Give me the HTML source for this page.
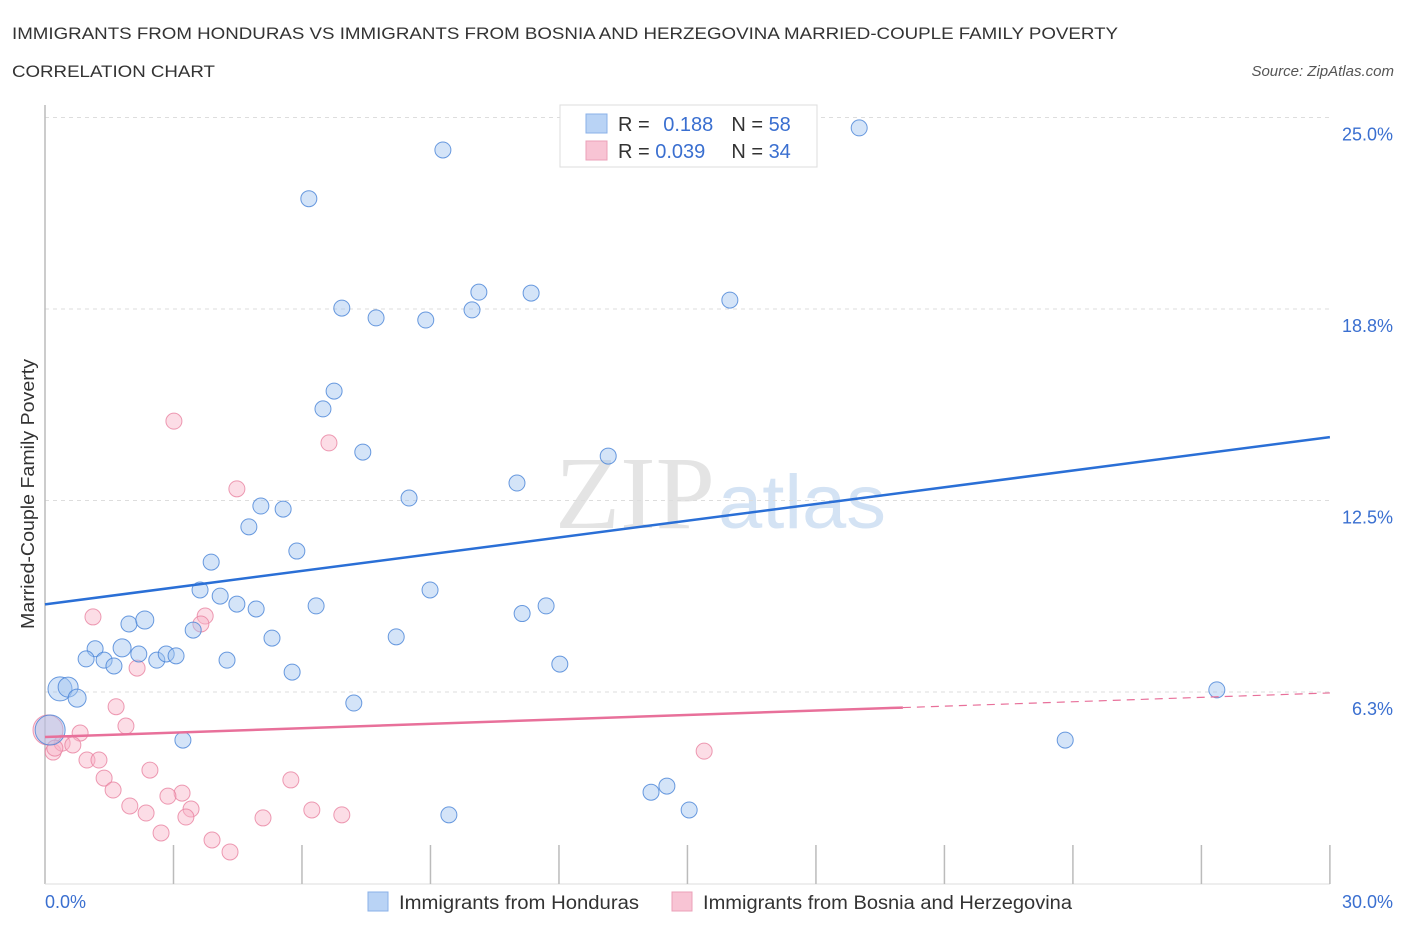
<!DOCTYPE html>
<html><head><meta charset="utf-8"><style>
body{margin:0;background:#fff;font-family:"Liberation Sans",sans-serif;}
svg{display:block}
</style></head><body>
<svg id="chart" width="1406" height="930" xmlns="http://www.w3.org/2000/svg">
<text x="12" y="39" font-size="17" fill="#333" textLength="1106" lengthAdjust="spacingAndGlyphs">IMMIGRANTS FROM HONDURAS VS IMMIGRANTS FROM BOSNIA AND HERZEGOVINA MARRIED-COUPLE FAMILY POVERTY</text>
<text x="12" y="77" font-size="17" fill="#333" textLength="203" lengthAdjust="spacingAndGlyphs">CORRELATION CHART</text>
<text x="1394" y="76" font-size="15" fill="#555" font-style="italic" text-anchor="end">Source: ZipAtlas.com</text>
<text x="555" y="528" font-size="104" fill="#e4e4e4" textLength="160" lengthAdjust="spacingAndGlyphs" font-family="Liberation Serif,serif">ZIP</text>
<text x="718" y="528" font-size="76" fill="#d4e3f4" textLength="168" lengthAdjust="spacingAndGlyphs">atlas</text>
<g id="grid"></g>
<g id="axes"></g>
<g id="pts"></g>
<g id="lines"></g>
<text transform="translate(34,494) rotate(-90)" font-size="18" fill="#333" text-anchor="middle" textLength="270" lengthAdjust="spacingAndGlyphs">Married-Couple Family Poverty</text>
<text x="45" y="908" font-size="18" fill="#3a6fd0">0.0%</text>
<text x="1393" y="908" font-size="18" fill="#3a6fd0" text-anchor="end">30.0%</text>
<g>
<rect x="560" y="105" width="257" height="62" fill="#fff" stroke="#ddd"/>
<rect x="586" y="114" width="21" height="19" fill="#b9d3f5" stroke="#8ab0e8"/>
<rect x="586" y="141" width="21" height="19" fill="#f8c4d4" stroke="#eba0b8"/>
<text x="618" y="131" font-size="20" fill="#333">R = <tspan fill="#3a6fd0" dx="8">0.188</tspan><tspan dx="18" fill="#333">N = </tspan><tspan fill="#3a6fd0">58</tspan></text>
<text x="618" y="158" font-size="20" fill="#333">R = <tspan fill="#3a6fd0">0.039</tspan><tspan dx="26" fill="#333">N = </tspan><tspan fill="#3a6fd0">34</tspan></text>
</g>
<g>
<rect x="368" y="892" width="20" height="19" fill="#b9d3f5" stroke="#8ab0e8"/>
<text x="399" y="909" font-size="19" fill="#333" textLength="240" lengthAdjust="spacingAndGlyphs">Immigrants from Honduras</text>
<rect x="672" y="892" width="20" height="19" fill="#f8c4d4" stroke="#eba0b8"/>
<text x="703" y="909" font-size="19" fill="#333" textLength="369" lengthAdjust="spacingAndGlyphs">Immigrants from Bosnia and Herzegovina</text>
</g>
</svg>
<script>
const blueX=[9.29,19.01,6.16,6.93,7.73,8.89,9.97,10.13,11.35,15.99,6.75,6.49,7.42,13.15,11.02,8.50,5.04,5.56,4.76,5.88,3.88,3.62,4.09,4.48,4.93,6.33,8.99,11.14,11.70,1.96,2.33,3.46,5.30,8.20,1.17,1.80,0.96,1.38,1.61,2.19,2.61,2.83,3.06,4.25,5.77,12.02,0.35,0.54,0.75,7.21,27.36,3.22,23.82,14.15,14.52,15.04,9.43,0.12];
const blueY=[23.94,24.66,22.35,18.78,18.46,18.39,18.72,19.30,19.27,19.04,16.07,15.49,14.08,13.95,13.07,12.58,12.32,12.22,11.64,10.85,10.49,9.58,9.38,9.12,8.96,9.06,9.58,8.81,9.06,8.47,8.60,8.27,8.01,8.05,7.66,7.69,7.33,7.29,7.10,7.49,7.29,7.49,7.43,7.29,6.90,7.16,6.35,6.41,6.05,5.89,6.32,4.68,4.68,2.98,3.18,2.40,2.24,5.01];
const blueR=[8,8,8,8,8,8,8,8,8,8,8,8,8,8,8,8,8,8,8,8,8,8,8,8,8,8,8,8,8,8,9,8,8,8,8,9,8,8,8,8,8,8,8,8,8,8,12,10,9,8,8,8,8,8,8,8,8,15];
const pinkX=[3.01,6.63,4.48,1.12,3.74,3.64,2.15,1.66,1.89,0.82,0.19,0.40,0.65,0.98,1.26,1.38,2.45,5.74,1.59,3.20,2.87,1.98,3.41,2.36,3.29,6.23,6.93,5.09,2.71,3.90,4.32,15.39,0.07,0.23];
const pinkY=[15.09,14.38,12.88,8.70,8.73,8.47,7.03,5.77,5.14,4.91,4.29,4.58,4.52,4.03,4.03,3.44,3.70,3.38,3.05,2.95,2.85,2.53,2.43,2.30,2.17,2.40,2.24,2.14,1.65,1.42,1.03,4.32,5.01,4.42];
const yTicks=[6.25,12.5,18.75,25];
const yTickLabels=["6.3%","12.5%","18.8%","25.0%"];
const xTicks=[3,6,9,12,15,18,21,24,27,30];
const blueTrend=[9.11,14.57];
const pinkTrend=[4.78,6.22];
const pinkSolidEnd=20.03;
const X=v=>45+v*42.83, Y=v=>883.5-v*30.64;
const NS="http://www.w3.org/2000/svg";
function mk(tag,attrs,parent){const e=document.createElementNS(NS,tag);for(const k in attrs)e.setAttribute(k,attrs[k]);document.getElementById(parent).appendChild(e);return e;}
yTicks.forEach((t,i)=>{
 const g=mk('line',{x1:45,x2:1330,y1:Y(t),y2:Y(t),stroke:'#ddd','stroke-dasharray':'4,4'},'grid');
 
 
 const l=mk('text',{x:1393,y:Y(t)+23,'font-size':18,fill:'#3a6fd0','text-anchor':'end'},'grid');
 l.textContent=yTickLabels[i];
 
 
});
const ax=mk('line',{x1:45,x2:45,y1:105,y2:884,stroke:'#bbb','stroke-width':1.5},'axes');


const bx=mk('line',{x1:45,x2:1330,y1:884,y2:884,stroke:'#ddd'},'axes');


xTicks.forEach(t=>{
 const k=mk('line',{x1:X(t),x2:X(t),y1:845,y2:884,stroke:'#bbb','stroke-width':1.5},'axes');
 
 
});
pinkX.forEach((v,i)=>{
 const c=mk('circle',{cx:X(v),cy:Y(pinkY[i]),r:i==32?15:8,fill:'rgba(248,180,200,0.45)',stroke:'rgba(232,130,160,0.8)','stroke-width':1},'pts');
 
 
});
blueX.forEach((v,i)=>{
 const c=mk('circle',{cx:X(v),cy:Y(blueY[i]),r:blueR[i],fill:'rgba(160,195,240,0.45)',stroke:'rgba(70,130,215,0.8)','stroke-width':1},'pts');
 
 
});
const bl=mk('line',{x1:X(0),y1:Y(blueTrend[0]),x2:X(30),y2:Y(blueTrend[1]),stroke:'#2a6fd6','stroke-width':2.5},'lines');


const pm=v=>pinkTrend[0]+(pinkTrend[1]-pinkTrend[0])*v/30;
const pl=mk('line',{x1:X(0),y1:Y(pm(0)),x2:X(pinkSolidEnd),y2:Y(pm(pinkSolidEnd)),stroke:'#e8709a','stroke-width':2.5},'lines');


const pd=mk('line',{x1:X(pinkSolidEnd),y1:Y(pm(pinkSolidEnd)),x2:X(30),y2:Y(pm(30)),stroke:'#e8709a','stroke-width':1.2,'stroke-dasharray':'8,6'},'lines');


</script>
</body></html>
